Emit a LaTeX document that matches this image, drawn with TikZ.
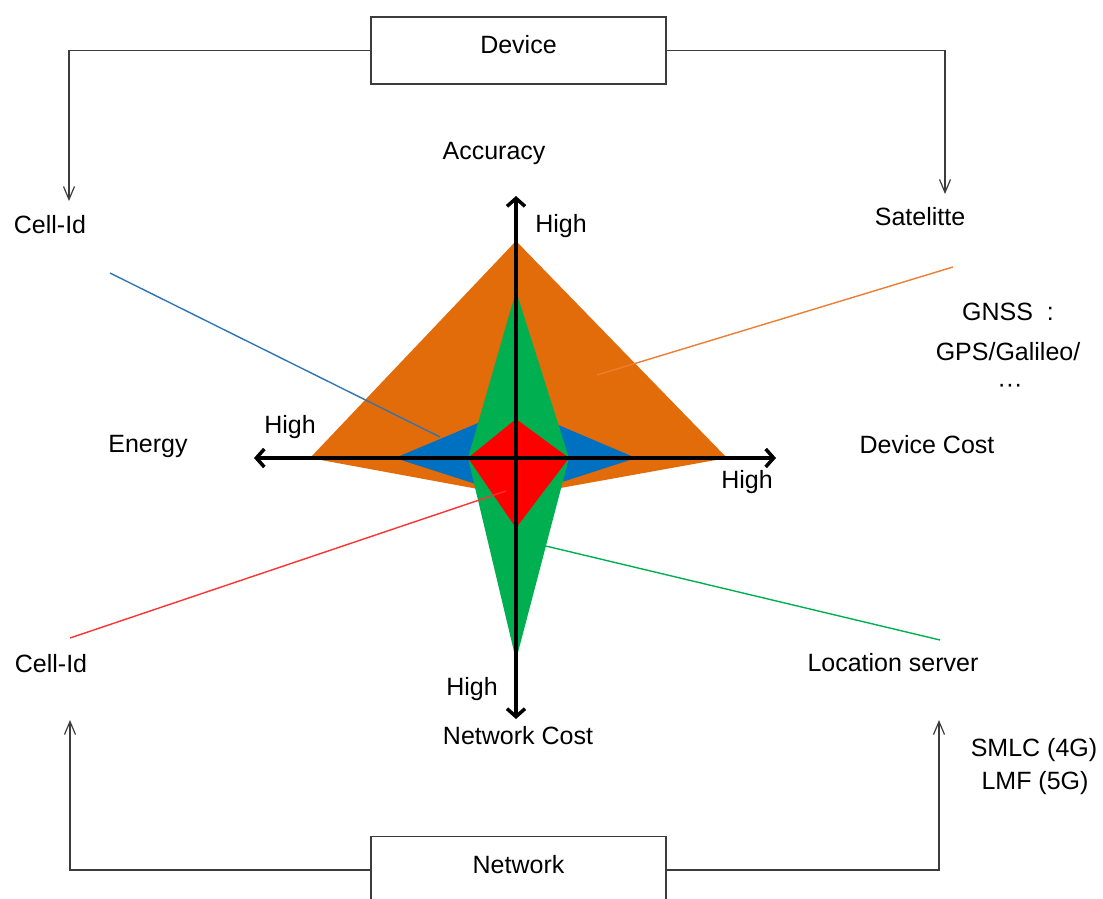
\documentclass[tikz,border=0pt]{standalone}
\usepackage{fontspec}
\setmainfont{Liberation Sans}
\usetikzlibrary{arrows.meta}
\definecolor{cOr}{RGB}{226,107,10}
\definecolor{cBl}{RGB}{0,112,192}
\definecolor{cGr}{RGB}{0,176,80}
\definecolor{cRd}{RGB}{255,0,0}
\definecolor{lBl}{RGB}{46,117,182}
\definecolor{lOr}{RGB}{237,125,49}
\definecolor{lRd}{RGB}{255,50,50}
\definecolor{lGr}{RGB}{0,176,80}
\definecolor{conn}{RGB}{60,60,60}
\begin{document}
\begin{tikzpicture}[x=1pt,y=-1pt,
  lbl/.style={font=\fontsize{25}{30}\selectfont, inner sep=0pt},
  boxnode/.style={draw=conn, line width=1.3pt, minimum width=295pt, minimum height=67pt, inner sep=0pt, font=\fontsize{25}{30}\selectfont},
  link/.style={draw=conn, line width=1.2pt, -{Straight Barb[length=13pt,width=11pt]}},
  axis/.style={line width=3.5pt, {Straight Barb[length=8pt,width=18pt]}-{Straight Barb[length=8pt,width=18pt]}},
  leader/.style={line width=1.4pt}
]
\useasboundingbox (0,0) rectangle (1103,899);
% radar polygons
\fill[cOr] (516,241) -- (727,458) -- (516,496) -- (310,458) -- cycle;
\fill[cBl] (516,407) -- (636,458) -- (516,497) -- (395,458) -- cycle;
\fill[cGr] (516,291) -- (569,458) -- (516,660) -- (468,458) -- cycle;
\fill[cRd] (516,419) -- (569,458) -- (516,528) -- (468,458) -- cycle;
% leader lines
\coordinate (b1) at (110,273); \coordinate (b2) at (440,437);
\coordinate (o1) at (953,267); \coordinate (o2) at (597,375);
\coordinate (r1) at (70,638);  \coordinate (r2) at (506,491);
\coordinate (g1) at (940,640); \coordinate (g2) at (529,542);
\draw[leader, lBl] (b1) -- (b2);
\draw[leader, lOr] (o1) -- (o2);
\draw[leader, lRd] (r1) -- (r2);
\draw[leader, lGr] (g1) -- (g2);
% axes
\coordinate (aT) at (516,196); \coordinate (aB) at (516,719);
\coordinate (aL) at (254,458); \coordinate (aR) at (776,458);
\draw[axis] (aB) -- (aT);
\draw[axis] (aL) -- (aR);
% boxes
\node[boxnode] (dev) at (518.5,50.5) {\raisebox{12pt}{Device}};
\node[boxnode] (net) at (518.5,870) {\raisebox{12pt}{Network}};
\coordinate (ca) at (69,201);
\coordinate (cb) at (945,194);
\coordinate (cc) at (70,720);
\coordinate (cd) at (939,720);
\draw[link] (dev.west) -| (ca);
\draw[link] (dev.east) -| (cb);
\draw[link] (net.west) -| (cc);
\draw[link] (net.east) -| (cd);
% labels
\node[lbl] (acc) at (494,153) {Accuracy};
\node[lbl] (cellA) at (50,225) {Cell-Id};
\node[lbl] (sat) at (920,217) {Satelitte};
\node[lbl] (hT) at (561,226) {High};
\node[lbl] (hL) at (290,427) {High};
\node[lbl] (hR) at (747,482) {High};
\node[lbl] (hB) at (472,689) {High};
\node[lbl] (en) at (148,446) {Energy};
\node[lbl] (dc) at (927,445) {Device Cost};
\node[lbl] (gn1) at (1008,312) {GNSS\ \ :};
\node[lbl] (gn2) at (1008,352) {GPS/Galileo/};
\node[lbl] (gn3) at (1010,388) {···};
\node[lbl] (cellB) at (51,664) {Cell-Id};
\node[lbl] (loc) at (893,663) {Location server};
\node[lbl] (nc) at (518,736) {Network Cost};
\node[lbl] (smlc) at (1034,750) {SMLC (4G)};
\node[lbl] (lmf) at (1035,783) {LMF (5G)};
\end{tikzpicture}
\end{document}
